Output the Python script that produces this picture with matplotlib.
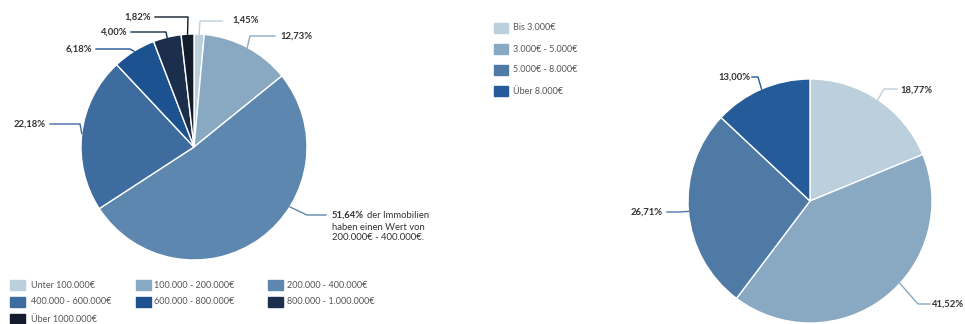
import matplotlib
matplotlib.use('Agg')
import matplotlib.pyplot as plt
import numpy as np
from matplotlib.lines import Line2D
from matplotlib.patches import Rectangle

plt.rcParams['font.family'] = ['Lato', 'DejaVu Sans']

# property value shares (left pie)
left_labels = ['Unter 100.000€', '100.000 - 200.000€', '200.000 - 400.000€',
               '400.000 - 600.000€', '600.000 - 800.000€', '800.000 - 1.000.000€',
               'Über 1000.000€']
left_values = [1.45, 12.73, 51.64, 22.18, 6.18, 4.00, 1.82]
left_colors = ['#bccfdc', '#89a9c3', '#5d87ae', '#3f6c9e', '#1c5290', '#1b2f4d', '#121c2a']

# income shares (right pie)
right_labels = ['Bis 3.000€', '3.000€ - 5.000€', '5.000€ - 8.000€', 'Über 8.000€']
right_values = [18.77, 41.52, 26.71, 13.00]
right_colors = ['#bccfdc', '#89a9c3', '#4f7aa6', '#245b98']

W, H = 965, 324
fig = plt.figure(figsize=(W / 100, H / 100), dpi=100)
TXT = '#333333'
FS = 6.8


def fig_xy(px, py):
    return px / W, 1 - py / H


def pie_axes(cx, cy, r):
    ax = fig.add_axes([(cx - r) / W, (H - cy - r) / H, 2 * r / W, 2 * r / H])
    return ax


def fmt(v):
    return f"{v:.2f}".replace('.', ',') + '%'


def draw_pie(ax, values, colors, layout):
    wedges, _ = ax.pie(values, colors=colors, startangle=90, counterclock=False,
                       radius=1, wedgeprops=dict(edgecolor='white', linewidth=1))
    ax.set_xlim(-1, 1)
    ax.set_ylim(-1, 1)
    ax.set_aspect('equal')
    ax.axis('off')
    inv = fig.transFigure.inverted()
    for w, v, c, (elbow, end, tpos, ha, ang) in zip(wedges, values, colors, layout):
        if ang is None:
            ang = (w.theta1 + w.theta2) / 2
        a = np.deg2rad(ang)
        disp = ax.transData.transform((np.cos(a), np.sin(a)))
        p0 = inv.transform(disp)
        p1 = fig_xy(*elbow)
        p2 = fig_xy(*end)
        fig.add_artist(Line2D([p0[0], p1[0], p2[0]], [p0[1], p1[1], p2[1]],
                              color=c, lw=1.0, transform=fig.transFigure))
        if tpos is not None:
            fig.text(*fig_xy(*tpos), fmt(v), ha=ha, va='center', fontsize=FS,
                     fontweight='bold', color=TXT)
    return wedges


# left pie
axl = pie_axes(194, 147, 113)
left_layout = [
    ((200, 21), (222, 21), (232, 20), 'left', None),
    ((250, 36), (275, 36), (280, 36), 'left', None),
    ((307, 215), (326, 215), None, 'left', -32),
    ((80, 124), (50, 124), (46, 124), 'right', None),
    ((130, 49), (96, 49), (92, 49), 'right', None),
    ((166, 32), (131, 32), (127, 32), 'right', None),
    ((188, 17), (155, 17), (151, 17), 'right', None),
]
draw_pie(axl, left_values, left_colors, left_layout)

# multi-line annotation for the biggest slice
t = fig.text(*fig_xy(332, 215), fmt(left_values[2]), ha='left', va='center',
             fontsize=FS, fontweight='bold', color=TXT)
r = fig.canvas.get_renderer()
bb = t.get_window_extent(r)
fig.text((bb.x1 + 3) / W, 1 - 215 / H, 'der Immobilien', ha='left', va='center',
         fontsize=FS, color=TXT)
fig.text(*fig_xy(332, 227), 'haben einen Wert von', ha='left', va='center',
         fontsize=FS, color=TXT)
fig.text(*fig_xy(332, 238), '200.000€ - 400.000€.', ha='left', va='center',
         fontsize=FS, color=TXT)

# right pie
axr = pie_axes(810, 201, 122)
right_layout = [
    ((884, 89), (897, 89), (900, 90), 'left', None),
    ((918, 304), (930, 304), (932, 304), 'left', -42.5),
    ((680, 212), (667, 212), (663, 212), 'right', None),
    ((758, 77), (752, 77), (750, 77), 'right', None),
]
draw_pie(axr, right_values, right_colors, right_layout)

# legends
col_sq = [10, 136, 268]
col_tx = [31, 154, 287]
row_y = [285, 302, 319]
for i, (lab, c) in enumerate(zip(left_labels, left_colors)):
    row, col = divmod(i, 3)
    x0, y0 = fig_xy(col_sq[col], row_y[row] + 5)
    fig.add_artist(Rectangle((x0, y0), 15 / W, 10 / H, color=c,
                             transform=fig.transFigure))
    fig.text(*fig_xy(col_tx[col], row_y[row]), lab, ha='left', va='center',
             fontsize=6.5, color='#555555')

for i, (lab, c) in enumerate(zip(right_labels, right_colors)):
    y = [28, 49, 70, 91][i]
    x0, y0 = fig_xy(494, y + 5)
    fig.add_artist(Rectangle((x0, y0), 14 / W, 10 / H, color=c,
                             transform=fig.transFigure))
    fig.text(*fig_xy(513, y), lab, ha='left', va='center',
             fontsize=6.5, color='#555555')

plt.savefig('out.png', dpi=100)
